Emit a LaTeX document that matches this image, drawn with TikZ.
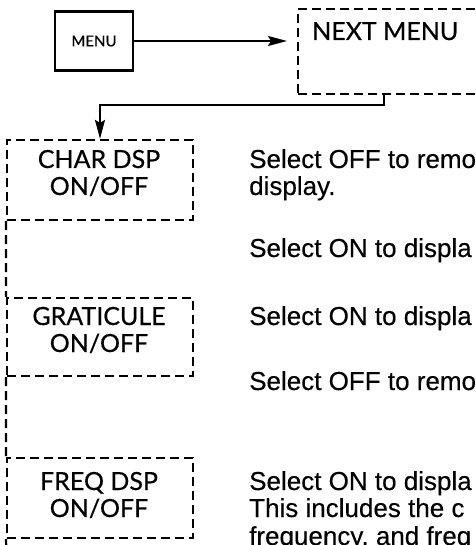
\documentclass[tikz,border=0pt]{standalone}
\usepackage{fontspec}
\newfontfamily\boxfont[FakeBold=0.5]{Lato}
\newfontfamily\descfont[FakeBold=0.3]{Liberation Sans}
\usetikzlibrary{arrows.meta}
\tikzset{
  menubox/.style={draw, line width=2.2pt, minimum width=78pt, minimum height=59pt,
    inner sep=0pt, font=\boxfont\fontsize{15}{16}\selectfont},
  dashbox/.style={draw, line width=2.2pt, dash pattern=on 9pt off 5pt,
    minimum width=186pt, inner sep=0pt},
  dashline/.style={line width=2.2pt, dash pattern=on 9pt off 5pt},
  boxlbl/.style={anchor=base, inner sep=0pt, font=\boxfont\fontsize{25}{27}\selectfont},
  desc/.style={anchor=base west, inner sep=0pt, font=\descfont\fontsize{26}{27}\selectfont},
  conn/.style={line width=1.8pt, -{Stealth[length=19pt,width=10pt,inset=3pt]}},
}
\begin{document}
\begin{tikzpicture}[x=1pt, y=-1pt]
  \useasboundingbox (0,0) rectangle (475,545);
  \clip (0,0) rectangle (475,545);
  \fill[white] (0,0) rectangle (475,545);
  % top row
  \node[menubox] (menu) at (94,41) {MENU};
  \node[dashbox, anchor=north west, minimum width=200pt, minimum height=85pt]
    (nextmenu) at (297,8) {};
  \node[boxlbl, anchor=base west] (nextmenu-txt) at (312,40) {NEXT MENU};
  % boxes on the left
  \node[dashbox, minimum height=80pt] (chardsp) at (100,180) {};
  \node[boxlbl] (chardsp-a) at (99,168) {CHAR DSP};
  \node[boxlbl] (chardsp-b) at (99,195) {ON/OFF};
  \node[dashbox, minimum height=78pt] (graticule) at (100,337) {};
  \node[boxlbl] (graticule-a) at (99,325) {GRATICULE};
  \node[boxlbl] (graticule-b) at (99,352) {ON/OFF};
  \node[dashbox, minimum height=80pt] (freqdsp) at (100,498) {};
  \node[boxlbl] (freqdsp-a) at (99,490) {FREQ DSP};
  \node[boxlbl] (freqdsp-b) at (99,517) {ON/OFF};
  \coordinate (lineend) at (7,560);
  % connectors
  \draw[conn, shorten >=10pt] (menu.east) -- (menu.east -| nextmenu.west);
  \draw[conn] (nextmenu.south west) ++(87,0) -- ++(0,10) -| (chardsp.north);
  \draw[dashline] (chardsp.south west) -- (graticule.north west)
    (graticule.south west) -- (freqdsp.north west)
    (freqdsp.south west) -- (lineend);
  % text on the right
  \node[desc] (d1) at (249,168) {Select OFF to remo};
  \node[desc] (d2) at (249,195) {display.};
  \node[desc] (d3) at (249,257) {Select ON to displa};
  \node[desc] (d4) at (249,325) {Select ON to displa};
  \node[desc] (d5) at (249,390) {Select OFF to remo};
  \node[desc] (d6) at (249,490) {Select ON to displa};
  \node[desc] (d7) at (249,517) {This includes the c};
  \node[desc] (d8) at (249,545) {frequency, and freq};
\end{tikzpicture}
\end{document}
